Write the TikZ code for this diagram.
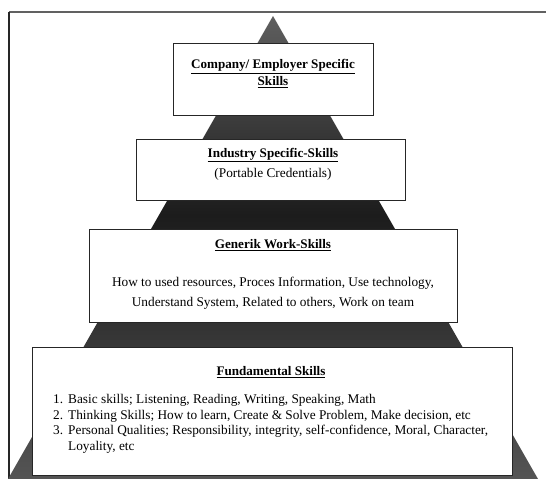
\documentclass[tikz,border=0pt]{standalone}
\usepackage{fontspec}
\setmainfont{Liberation Serif}
\begin{document}
\begin{tikzpicture}[x=1pt,y=-1pt,
  box/.style={draw=black!85, line width=0.9pt, fill=white, inner sep=0pt, anchor=north west},
  ttl/.style={font=\fontsize{13.1}{17}\selectfont\bfseries, align=center, inner sep=0pt},
  body/.style={font=\fontsize{13.3}{15}\selectfont, inner sep=0pt}]
\useasboundingbox (0,0) rectangle (546,479);
% outer frame
\draw[black!62, line width=1.5pt] (9,12) -- (546,12);
\draw[black!85, line width=1.2pt] (9,12) -- (9,479);
% pyramid
\coordinate (apex) at (273,16);
\coordinate (ml) at (159,215);
\coordinate (mr) at (387,215);
\coordinate (bl) at (8,479);
\coordinate (br) at (538,479);
\shade[top color=black!63, bottom color=black!89] (apex) -- (mr) -- (ml) -- cycle;
\shade[top color=black!89, bottom color=black!67] (ml) -- (mr) -- (br) -- (bl) -- cycle;
% boxes
\node[box, minimum width=200pt, minimum height=72pt] (company) at (173,43) {};
\node[box, minimum width=269pt, minimum height=61pt] (industry) at (136,139) {};
\node[box, minimum width=368pt, minimum height=93pt] (generic) at (89,229) {};
\node[box, minimum width=480pt, minimum height=128pt] (fund) at (32,347) {};
% texts
\node[ttl] (companyt) at (273,73.5) {\underline{Company/ Employer Specific}\\\underline{Skills}};
\node[ttl] (industryt) at (273,155) {\underline{Industry Specific-Skills}};
\node[body] (industrys) at (273,174) {(Portable Credentials)};
\node[ttl] (generict) at (273,245) {\underline{Generik Work-Skills}};
\node[body] (generic1) at (273,283) {How to used resources, Proces Information, Use technology,};
\node[body] (generic2) at (273,303) {Understand System, Related to others, Work on team};
\node[ttl] (fundt) at (271,372) {\underline{Fundamental Skills}};
\node[body, anchor=base west] (n1) at (53,403.5) {1.};
\node[body, anchor=base west] (l1) at (68,403.5) {Basic skills; Listening, Reading, Writing, Speaking, Math};
\node[body, anchor=base west] (n2) at (53,419) {2.};
\node[body, anchor=base west] (l2) at (68,419) {Thinking Skills; How to learn, Create \& Solve Problem, Make decision, etc};
\node[body, anchor=base west] (n3) at (53,434.5) {3.};
\node[body, anchor=base west] (l3) at (68,434.5) {Personal Qualities; Responsibility, integrity, self-confidence, Moral, Character,};
\node[body, anchor=base west] (l4) at (68,450.5) {Loyality, etc};
\end{tikzpicture}
\end{document}
